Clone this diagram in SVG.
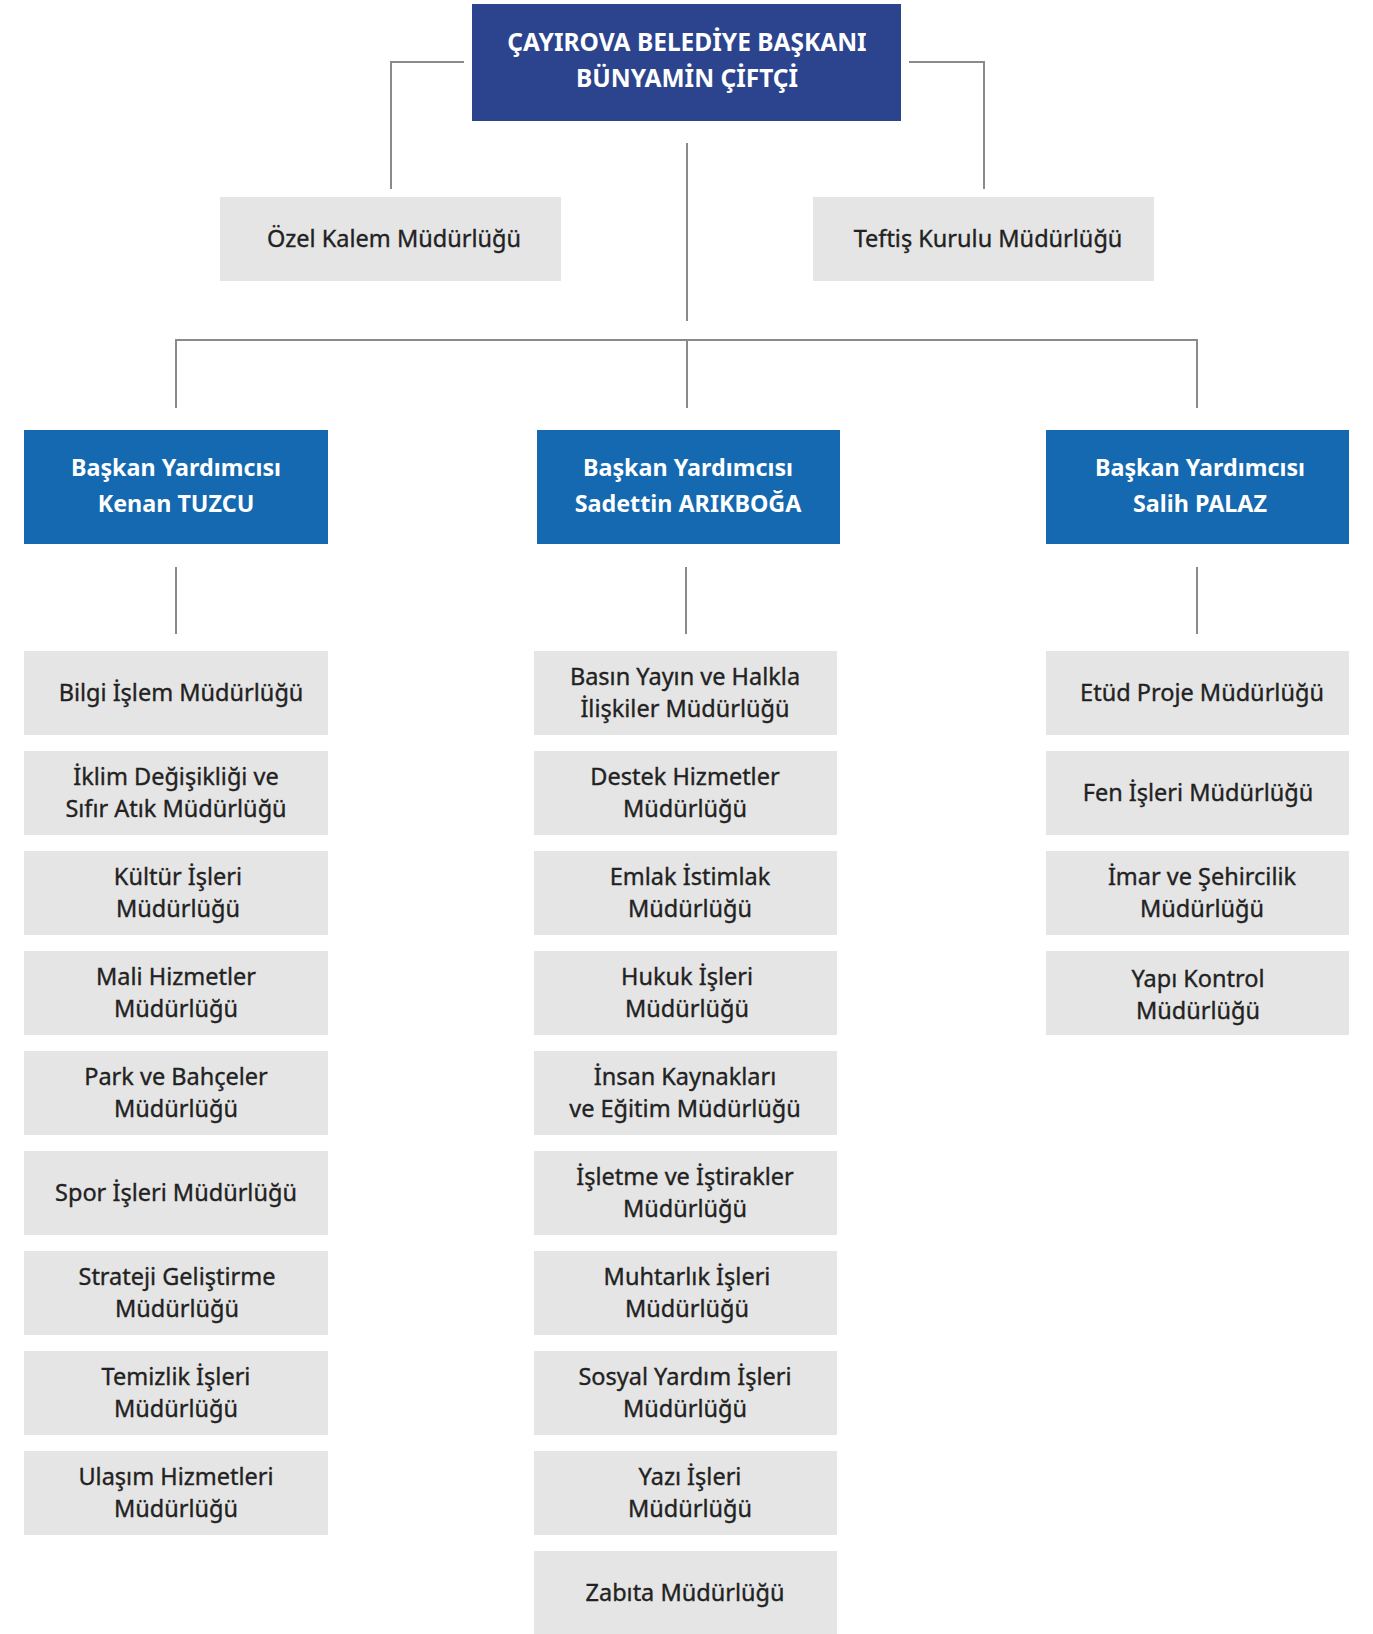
<svg xmlns="http://www.w3.org/2000/svg" width="1373" height="1634" viewBox="0 0 1373 1634">
<style>
.bg{fill:#ffffff}
.top{fill:#2c448e}
.vp{fill:#1569b0}
.gr{fill:#e5e5e5}
.wt{font-family:"Noto Sans","Open Sans","DejaVu Sans",sans-serif;font-weight:bold;font-size:23.3px;fill:#ffffff;text-anchor:middle}
.tt{font-size:24.5px}
.gt{font-family:"Noto Sans","Open Sans","DejaVu Sans",sans-serif;font-size:23.5px;fill:#222222;stroke:#222222;stroke-width:0.35px;text-anchor:middle}
.ln{fill:none;stroke:#8a8a8a;stroke-width:2}
</style>
<rect class="bg" x="0" y="0" width="1373" height="1634"/>
<g id="connectors">
<path class="ln" d="M464,62 H391 V189"/>
<path class="ln" d="M909,62 H984 V189"/>
<path class="ln" d="M687,143 V321"/>
<path class="ln" d="M176,408 V340 H1197 V408"/>
<path class="ln" d="M687,340 V408"/>
<path class="ln" d="M176,567 V634"/>
<path class="ln" d="M686,567 V634"/>
<path class="ln" d="M1197,567 V634"/>
</g>
<g id="baskan">
<rect class="top" x="472" y="4" width="429" height="117"/>
<text class="wt tt" x="687" y="51">ÇAYIROVA BELEDİYE BAŞKANI</text>
<text class="wt tt" x="687" y="87">BÜNYAMİN ÇİFTÇİ</text>
</g>
<g id="ozel-kalem">
<rect class="gr" x="220" y="197" width="341" height="84"/>
<text class="gt" x="394" y="247">Özel Kalem Müdürlüğü</text>
</g>
<g id="teftis">
<rect class="gr" x="813" y="197" width="341" height="84"/>
<text class="gt" x="988" y="247">Teftiş Kurulu Müdürlüğü</text>
</g>
<g id="vp-kenan">
<rect class="vp" x="24" y="430" width="304" height="114"/>
<text class="wt" x="176" y="476">Başkan Yardımcısı</text>
<text class="wt" x="176" y="512">Kenan TUZCU</text>
</g>
<g id="vp-sadettin">
<rect class="vp" x="537" y="430" width="303" height="114"/>
<text class="wt" x="688" y="476">Başkan Yardımcısı</text>
<text class="wt" x="688" y="512">Sadettin ARIKBOĞA</text>
</g>
<g id="vp-salih">
<rect class="vp" x="1046" y="430" width="303" height="114"/>
<text class="wt" x="1200" y="476">Başkan Yardımcısı</text>
<text class="wt" x="1200" y="512">Salih PALAZ</text>
</g>
<!-- Left column -->
<g id="bilgi-islem"><rect class="gr" x="24" y="651" width="304" height="84"/><text class="gt" x="181" y="701">Bilgi İşlem Müdürlüğü</text></g>
<g id="iklim"><rect class="gr" x="24" y="751" width="304" height="84"/><text class="gt" x="176" y="785">İklim Değişikliği ve</text><text class="gt" x="176" y="817">Sıfır Atık Müdürlüğü</text></g>
<g id="kultur"><rect class="gr" x="24" y="851" width="304" height="84"/><text class="gt" x="178" y="885">Kültür İşleri</text><text class="gt" x="178" y="917">Müdürlüğü</text></g>
<g id="mali"><rect class="gr" x="24" y="951" width="304" height="84"/><text class="gt" x="176" y="985">Mali Hizmetler</text><text class="gt" x="176" y="1017">Müdürlüğü</text></g>
<g id="park"><rect class="gr" x="24" y="1051" width="304" height="84"/><text class="gt" x="176" y="1085">Park ve Bahçeler</text><text class="gt" x="176" y="1117">Müdürlüğü</text></g>
<g id="spor"><rect class="gr" x="24" y="1151" width="304" height="84"/><text class="gt" x="176" y="1201">Spor İşleri Müdürlüğü</text></g>
<g id="strateji"><rect class="gr" x="24" y="1251" width="304" height="84"/><text class="gt" x="177" y="1285">Strateji Geliştirme</text><text class="gt" x="177" y="1317">Müdürlüğü</text></g>
<g id="temizlik"><rect class="gr" x="24" y="1351" width="304" height="84"/><text class="gt" x="176" y="1385">Temizlik İşleri</text><text class="gt" x="176" y="1417">Müdürlüğü</text></g>
<g id="ulasim"><rect class="gr" x="24" y="1451" width="304" height="84"/><text class="gt" x="176" y="1485">Ulaşım Hizmetleri</text><text class="gt" x="176" y="1517">Müdürlüğü</text></g>
<!-- Middle column -->
<g id="basin"><rect class="gr" x="534" y="651" width="303" height="84"/><text class="gt" x="685" y="685">Basın Yayın ve Halkla</text><text class="gt" x="685" y="717">İlişkiler Müdürlüğü</text></g>
<g id="destek"><rect class="gr" x="534" y="751" width="303" height="84"/><text class="gt" x="685" y="785">Destek Hizmetler</text><text class="gt" x="685" y="817">Müdürlüğü</text></g>
<g id="emlak"><rect class="gr" x="534" y="851" width="303" height="84"/><text class="gt" x="690" y="885">Emlak İstimlak</text><text class="gt" x="690" y="917">Müdürlüğü</text></g>
<g id="hukuk"><rect class="gr" x="534" y="951" width="303" height="84"/><text class="gt" x="687" y="985">Hukuk İşleri</text><text class="gt" x="687" y="1017">Müdürlüğü</text></g>
<g id="insan"><rect class="gr" x="534" y="1051" width="303" height="84"/><text class="gt" x="685" y="1085">İnsan Kaynakları</text><text class="gt" x="685" y="1117">ve Eğitim Müdürlüğü</text></g>
<g id="isletme"><rect class="gr" x="534" y="1151" width="303" height="84"/><text class="gt" x="685" y="1185">İşletme ve İştirakler</text><text class="gt" x="685" y="1217">Müdürlüğü</text></g>
<g id="muhtarlik"><rect class="gr" x="534" y="1251" width="303" height="84"/><text class="gt" x="687" y="1285">Muhtarlık İşleri</text><text class="gt" x="687" y="1317">Müdürlüğü</text></g>
<g id="sosyal"><rect class="gr" x="534" y="1351" width="303" height="84"/><text class="gt" x="685" y="1385">Sosyal Yardım İşleri</text><text class="gt" x="685" y="1417">Müdürlüğü</text></g>
<g id="yazi"><rect class="gr" x="534" y="1451" width="303" height="84"/><text class="gt" x="690" y="1485">Yazı İşleri</text><text class="gt" x="690" y="1517">Müdürlüğü</text></g>
<g id="zabita"><rect class="gr" x="534" y="1551" width="303" height="84"/><text class="gt" x="685" y="1601">Zabıta Müdürlüğü</text></g>
<!-- Right column -->
<g id="etud"><rect class="gr" x="1046" y="651" width="303" height="84"/><text class="gt" x="1202" y="701">Etüd Proje Müdürlüğü</text></g>
<g id="fen"><rect class="gr" x="1046" y="751" width="303" height="84"/><text class="gt" x="1198" y="801">Fen İşleri Müdürlüğü</text></g>
<g id="imar"><rect class="gr" x="1046" y="851" width="303" height="84"/><text class="gt" x="1202" y="885">İmar ve Şehircilik</text><text class="gt" x="1202" y="917">Müdürlüğü</text></g>
<g id="yapi"><rect class="gr" x="1046" y="951" width="303" height="84"/><text class="gt" x="1198" y="987">Yapı Kontrol</text><text class="gt" x="1198" y="1019">Müdürlüğü</text></g>
</svg>
